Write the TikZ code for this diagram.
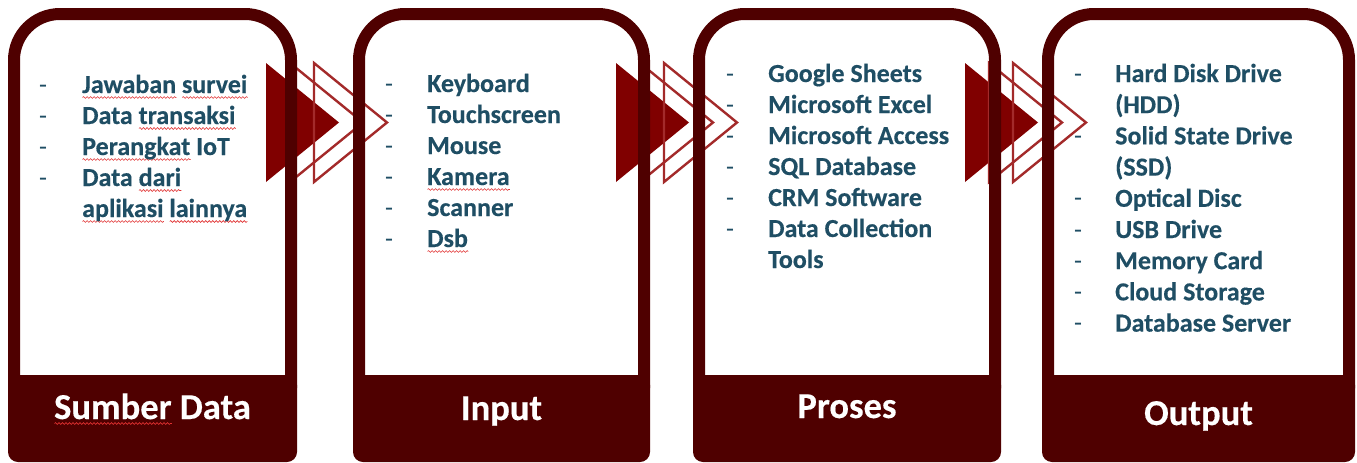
\documentclass[tikz,border=0pt]{standalone}
\usepackage{fontspec}
\setmainfont{Carlito}[BoldFeatures={FakeBold=0.35}]
\usetikzlibrary{decorations.pathmorphing}
\definecolor{boxdark}{HTML}{4F0000}
\definecolor{arrowfill}{HTML}{800000}
\definecolor{arrowline}{HTML}{A32A2A}
\definecolor{txtblue}{HTML}{1F4E64}
\definecolor{squigred}{HTML}{E03030}
\newlength\sqlen
\newcommand\squig[1]{\settowidth\sqlen{#1}\rlap{\tikz[baseline=0pt,x=1pt,y=1pt]\draw[squigred,line width=0.6pt,decorate,decoration={snake,amplitude=0.9pt,segment length=3.5pt}] (0pt,-4.5pt) -- (\sqlen,-4.5pt);}#1}
\newcommand\arrowgrp[2]{%
  \fill[arrowfill] (#1,63) -- (#1+73,122.5) -- (#1,182) -- cycle;
  \draw[arrowline,line width=2.4pt] (#1+24,63) -- (#1+97,122.5) -- (#1+24,182) -- cycle;
  \draw[arrowline,line width=2.4pt] (#1+48,63) -- (#1+121,122.5) -- (#1+48,182) -- cycle;
  \coordinate (#2) at (#1+36,122.5);}
\newcommand\panel[3]{%
  \fill[boxdark,even odd rule] [rounded corners=52pt] (#1,440) |- (#2,8) -- (#2,440) -- cycle
     [rounded corners=40pt] (#1+12,420) |- (#2-12,20) -- (#2-12,420) -- cycle;
  \fill[boxdark,rounded corners=10pt] (#1,375) rectangle (#2,462);
  \coordinate (#3) at ({(#1+#2)/2},375);}
\begin{document}
\begin{tikzpicture}[x=1pt,y=-1pt,
  item/.style={anchor=base west,inner sep=0pt,text=txtblue,font=\fontsize{26}{31}\selectfont\bfseries},
  dashitem/.style={anchor=base west,inner sep=0pt,text=txtblue,font=\fontsize{26}{31}\selectfont},
  title/.style={anchor=base,inner sep=0pt,text=white,font=\fontsize{36.5}{42}\selectfont\bfseries}]
\useasboundingbox (0,0) rectangle (1357,463);
% arrows (behind the frames)
\arrowgrp{266}{ar1}
\arrowgrp{616}{ar2}
\arrowgrp{965}{ar3}
% frames
\panel{8}{297}{p1}
\panel{353}{650}{p2}
\panel{693}{1001}{p3}
\panel{1042}{1355}{p4}
% titles
\node[title] (t1) at (152.5,419) {\squig{Sumber} Data};
\node[title] (t2) at (501.5,420) {Input};
\node[title] (t3) at (847,418) {Proses};
\node[title] (t4) at (1198.5,425) {Output};
% box 1
\foreach \t [count=\i] in {{\squig{Jawaban} \squig{survei}},{Data \squig{transaksi}},{\squig{Perangkat} IoT},{Data \squig{dari}},{\squig{aplikasi} \squig{lainnya}}}
  \node[item] (a\i) at (82,{93+31*(\i-1)}) {\t};
\foreach \i in {1,...,4}
  \node[dashitem] (ad\i) at (39,{93+31*(\i-1)}) {-};
% box 2
\foreach \t [count=\i] in {Keyboard,Touchscreen,Mouse,{\squig{Kamera}},Scanner,{\squig{Dsb}}}
  \node[item] (b\i) at (427,{92+31*(\i-1)}) {\t};
\foreach \i in {1,...,6}
  \node[dashitem] (bd\i) at (385,{92+31*(\i-1)}) {-};
% box 3
\foreach \t [count=\i] in {Google Sheets,Microsoft Excel,Microsoft Access,SQL Database,CRM Software,Data Collection,Tools}
  \node[item] (c\i) at (768,{82+31*(\i-1)}) {\t};
\foreach \i in {1,...,6}
  \node[dashitem] (cd\i) at (726,{82+31*(\i-1)}) {-};
% box 4
\foreach \t [count=\i] in {Hard Disk Drive,(HDD),Solid State Drive,(SSD),Optical Disc,USB Drive,Memory Card,Cloud Storage,Database Server}
  \node[item] (d\i) at (1115,{82+31.2*(\i-1)}) {\t};
\foreach \i in {1,3,5,6,7,8,9}
  \node[dashitem] (dd\i) at (1074,{82+31.2*(\i-1)}) {-};
\end{tikzpicture}
\end{document}
